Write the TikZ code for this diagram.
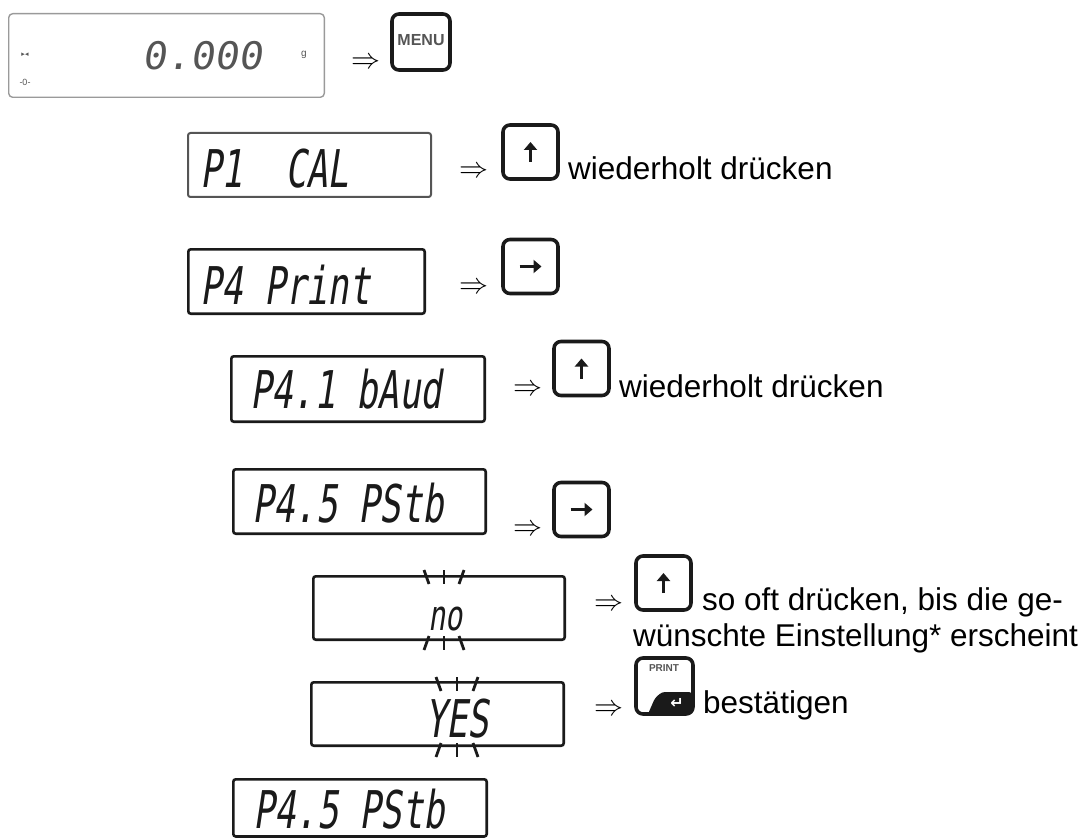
\RequirePackage{fix-cm}
\documentclass[tikz,border=0pt]{standalone}
\usepackage{fontspec}
\usepackage{tikz}
\usetikzlibrary{positioning, arrows.meta}
\setmainfont{Liberation Sans}
\newfontfamily\lcdfont{DejaVu Sans Mono}[FakeSlant=0.15, FakeStretch=0.68]
\newfontfamily\lcdwide{DejaVu Sans Mono}[FakeSlant=0.15, FakeStretch=1.05]
\newfontfamily\symfont{DejaVu Sans}
\definecolor{lcdink}{HTML}{1A1A1A}
\definecolor{lcdgrey}{HTML}{9A9A9A}
\definecolor{dimgrey}{HTML}{555555}
% blinking marks around a flashing value: centre x, top y, bottom y, spread
\newcommand{\blinkrays}[4]{%
  \draw[ray] ({#1-#4-3},#2) -- ({#1-#4+2},{#2+14});
  \draw[ray] (#1,#2) -- (#1,{#2+14});
  \draw[ray] ({#1+#4+3},#2) -- ({#1+#4-2},{#2+14});
  \draw[ray] ({#1-#4+2},#3) -- ({#1-#4-3},{#3+14});
  \draw[ray] (#1,#3) -- (#1,{#3+14});
  \draw[ray] ({#1+#4-2},#3) -- ({#1+#4+3},{#3+14});}

\begin{document}
\begin{tikzpicture}[x=1pt, y=-1pt,
    display/.style={draw=lcdink, line width=2.6pt, rounded corners=2.5pt},
    lcd/.style={font=\lcdfont\fontsize{52}{52}\selectfont, text=lcdink, inner sep=0pt,
                text depth=0pt, anchor=base west},
    keybox/.style={draw=lcdink, line width=3.6pt, rounded corners=7pt, fill=white,
                   minimum width=55pt, minimum height=54pt, inner sep=0pt},
    keyarrow/.style={-{Triangle[width=13pt, length=8pt]}, line width=3.4pt, lcdink},
    then/.style={font=\fontsize{29}{29}\selectfont, inner sep=0pt},
    hint/.style={font=\fontsize{31.5}{36}\selectfont, inner sep=0pt, anchor=base west},
    ray/.style={line width=2.8pt, lcdink}]
  \useasboundingbox (0,0) rectangle (1088,840);

  % weighing display
  \draw[draw=lcdgrey, line width=1.4pt, rounded corners=4pt] (8.7,13.7) rectangle (324.3,97.3);
  \node[font=\symfont\fontsize{7}{7}\selectfont, text=dimgrey] (stab) at (25,55) {▸◂};
  \node[font=\fontsize{9}{9}\selectfont, text=dimgrey] (zero) at (25,82) {-0-};
  \node[font=\lcdwide\fontsize{38}{38}\selectfont, text=dimgrey, inner sep=0pt, anchor=base west]
    (w0) at (142,70) {0.000};
  \node[font=\fontsize{10}{10}\selectfont, text=dimgrey] (unit) at (304,55) {g};
  \node[then] (r0) at (366,63) {$\Rightarrow$};
  \node[keybox, minimum width=58pt, minimum height=56pt] (menu) at (421,42) {};
  \node[font=\bfseries\fontsize{16}{16}\selectfont, text=dimgrey] (menut) at (421,40) {MENU};

  % P1 CAL
  \draw[display, draw=dimgrey, line width=2pt] (188,133) rectangle (431,197);
  \node[lcd] (t1) at (200,188) {P1\ \ CAL};
  \node[then] (r1) at (474,172) {$\Rightarrow$};
  \node[keybox] (up1) at (530.5,152) {};
  \draw[keyarrow] ([yshift=-10pt]up1.center) -- ([yshift=10pt]up1.center);
  \node[hint] (h1) at (568,180) {wiederholt drücken};

  % P4 Print
  \draw[display] (188.3,249.3) rectangle (424.7,313.7);
  \node[lcd] (t2) at (200,304) {P4 Print};
  \node[then] (r2) at (474,288) {$\Rightarrow$};
  \node[keybox] (rt1) at (530.5,266.5) {};
  \draw[keyarrow] ([xshift=-11pt]rt1.center) -- ([xshift=11pt]rt1.center);

  % P4.1 bAud
  \draw[display] (231.3,356.3) rectangle (484.7,421.7);
  \node[lcd] (t3) at (250,408) {P4.1 bAud};
  \node[then] (r3) at (528,390) {$\Rightarrow$};
  \node[keybox] (up2) at (581.5,368.5) {};
  \draw[keyarrow] ([yshift=-10pt]up2.center) -- ([yshift=10pt]up2.center);
  \node[hint] (h2) at (619,397) {wiederholt drücken};

  % P4.5 PStb
  \draw[display] (233.3,469.3) rectangle (485.7,533.7);
  \node[lcd] (t4) at (252,522) {P4.5 PStb};
  \node[then] (r4) at (528,530) {$\Rightarrow$};
  \node[keybox] (rt2) at (581.5,509.5) {};
  \draw[keyarrow] ([xshift=-11pt]rt2.center) -- ([xshift=11pt]rt2.center);

  % no (flashing)
  \draw[display] (313.3,576.3) rectangle (564.7,639.7);
  \node[font=\lcdfont\fontsize{42}{42}\selectfont, text=lcdink, inner sep=0pt, anchor=base west]
    (t5) at (428,630) {no};
  \blinkrays{444}{570}{636}{17}
  \node[then] (r5) at (609,605) {$\Rightarrow$};
  \node[keybox] (up3) at (663.5,583) {};
  \draw[keyarrow] ([yshift=-10pt]up3.center) -- ([yshift=10pt]up3.center);
  \node[hint] (h3) at (702,610) {so oft drücken, bis die ge-};
  \node[hint] (h4) at (633,646) {wünschte Einstellung* erscheint};

  % YES (flashing)
  \draw[display] (311.3,682.3) rectangle (563.7,745.7);
  \node[lcd] (t6) at (425,737) {YES};
  \blinkrays{457}{677}{743}{18}
  \node[then] (r6) at (609,710) {$\Rightarrow$};
  \node[keybox, minimum width=57pt, minimum height=56pt] (print) at (664.5,686) {};
  \fill[lcdink, rounded corners=3pt] (648,714) -- (655,698) -- (662,692) -- (692,692) -- (692,714) -- cycle;
  \node[font=\bfseries\fontsize{10}{10}\selectfont, text=dimgrey] (printt) at (664,668) {PRINT};
  \node[font=\symfont\bfseries\fontsize{16}{16}\selectfont, text=white, inner sep=0pt] (enter) at (677,703) {↵};
  \node[hint] (h5) at (703,713) {bestätigen};

  % P4.5 PStb again
  \draw[display] (233.3,779.3) rectangle (486.7,836.5);
  \node[lcd] (t7) at (253,828) {P4.5 PStb};
\end{tikzpicture}
\end{document}
